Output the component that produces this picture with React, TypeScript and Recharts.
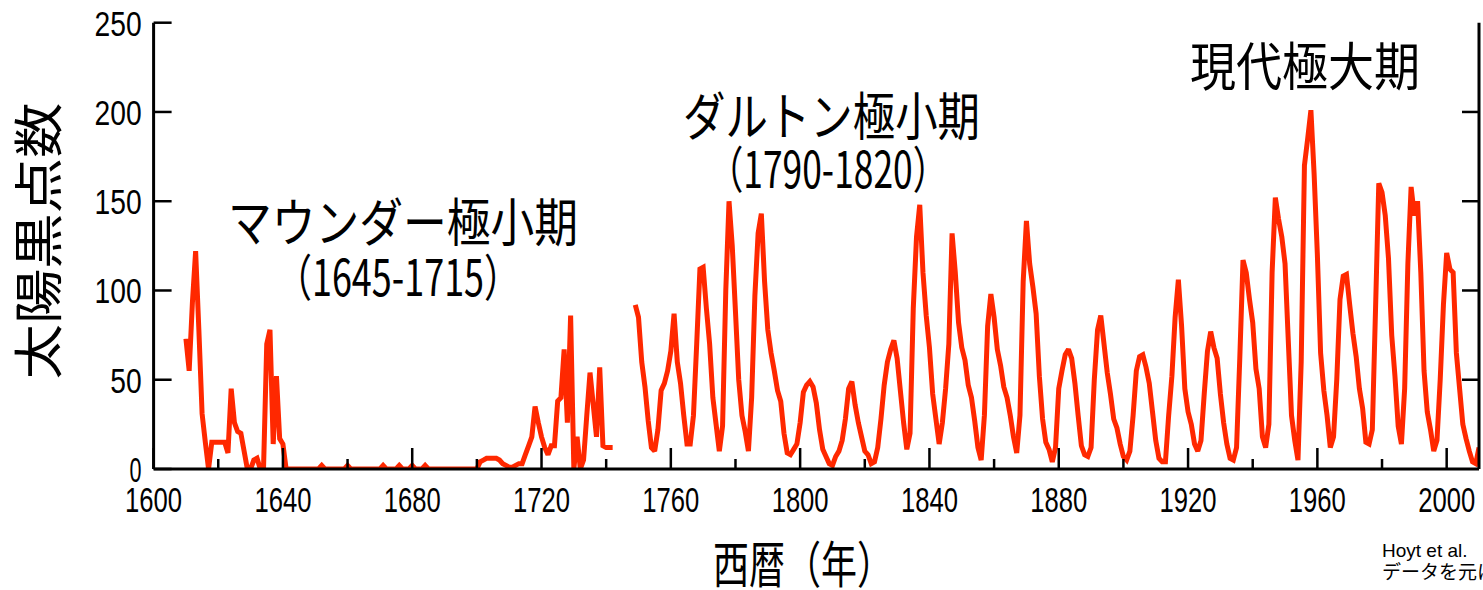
import React from 'react';
import { LineChart, Line, XAxis, YAxis } from 'recharts';

// Hoyt et al. group sunspot numbers (yearly)
const EARLY_START = 1610;
const earlySpots = [
  73, 55, 93, 122, 78, 31, 15, 0, 15, 15, // 1610-1619
  15, 15, 15, 9, 45, 26, 21, 20, 10, 0, // 1620-1629
  0, 5, 6, 0, 0, 70, 78, 14, 52, 17, // 1630-1639
  14, 0, 0, 0, 0, 0, 0, 0, 0, 0, // 1640-1649
  0, 0, 2, 0, 0, 0, 0, 0, 0, 0, // 1650-1659
  2, 0, 0, 0, 0, 0, 0, 0, 0, 0, // 1660-1669
  0, 2, 0, 0, 0, 0, 2, 0, 0, 0, // 1670-1679
  2, 0, 0, 0, 2, 0, 0, 0, 0, 0, // 1680-1689
  0, 0, 0, 0, 0, 0, 0, 0, 0, 0, // 1690-1699
  0, 4, 5, 6, 6, 6, 6, 5, 3, 2, // 1700-1709
  1, 1, 2, 3, 3, 8, 13, 18, 35, 26, // 1710-1719
  18, 12, 8, 13, 13, 38, 40, 67, 26, 86, // 1720-1729
  0, 18, 0, 5, 30, 54, 36, 18, 57, 13, // 1730-1739
  12, 12, 12, // 1740-1742
];

const LATE_START = 1749;
const lateSpots = [
  92, // 1749
  85, 60, 46, 27, 12, 10, 22, 44, 48, 55, // 1750-1759
  66, 87, 60, 48, 30, 14, 14, 30, 70, 112, // 1760-1769
  113, 90, 70, 40, 25, 10, 24, 100, 150, 125, // 1770-1779
  88, 50, 30, 21, 10, 40, 97, 132, 143, 105, // 1780-1789
  78, 65, 55, 44, 38, 20, 9, 8, 11, 14, // 1790-1799
  26, 43, 47, 49, 46, 37, 22, 11, 7, 3, // 1800-1809
  2, 7, 10, 16, 28, 45, 49, 36, 26, 18, // 1810-1819
  10, 8, 3, 4, 12, 28, 47, 60, 67, 72, // 1820-1829
  62, 44, 26, 11, 20, 90, 130, 148, 110, 86, // 1830-1839
  68, 42, 28, 14, 26, 45, 70, 132, 110, 82, // 1840-1849
  68, 61, 47, 40, 27, 12, 5, 30, 80, 98, // 1850-1859
  85, 67, 58, 46, 40, 30, 18, 9, 30, 105, // 1860-1869
  139, 115, 102, 87, 52, 28, 15, 11, 4, 12, // 1870-1879
  45, 55, 64, 67, 62, 48, 30, 13, 8, 7, // 1880-1889
  12, 50, 78, 86, 70, 54, 42, 28, 23, 14, // 1890-1899
  7, 5, 10, 30, 55, 63, 64, 57, 48, 32, // 1900-1909
  16, 6, 4, 4, 30, 52, 85, 106, 80, 45, // 1910-1919
  32, 25, 14, 10, 16, 42, 66, 77, 68, 62, // 1920-1929
  42, 26, 14, 6, 5, 12, 62, 117, 110, 95, // 1930-1939
  82, 56, 45, 18, 12, 25, 110, 152, 140, 130, // 1940-1949
  115, 72, 30, 16, 5, 60, 170, 185, 201, 165, // 1950-1959
  120, 65, 44, 30, 12, 18, 50, 95, 108, 109, // 1960-1969
  92, 76, 63, 45, 34, 15, 14, 22, 90, 160, // 1970-1979
  155, 142, 118, 75, 52, 24, 14, 45, 115, 158, // 1980-1989
  142, 150, 110, 55, 32, 22, 10, 16, 50, 92, // 1990-1999
  121, 112, 110, 65, 45, 25, 17, 10, 4, 3, // 2000-2009
  12, // 2010
];

const yearTicks = [1600, 1620, 1640, 1660, 1680, 1700, 1720, 1740, 1760, 1780, 1800, 1820, 1840, 1860, 1880, 1900, 1920, 1940, 1960, 1980, 2000];
const yearLabels = [1600, 1640, 1680, 1720, 1760, 1800, 1840, 1880, 1920, 1960, 2000];
const countTicks = [0, 50, 100, 150, 200, 250];
const rightTicks = [50, 100, 150, 200];

const lastYear = LATE_START + lateSpots.length - 1;
const chartData: { year: number; early: number | null; late: number | null }[] = [];
for (let yr = EARLY_START; yr <= lastYear; yr++) {
  const ei = yr - EARLY_START;
  const li = yr - LATE_START;
  chartData.push({
    year: yr,
    early: ei >= 0 && ei < earlySpots.length ? earlySpots[ei] : null,
    late: li >= 0 && li < lateSpots.length ? lateSpots[li] : null,
  });
}

const NUM_FONT = "'Liberation Sans Narrow', 'Liberation Sans', Arial, sans-serif";
const JP_FONT = "'Noto Sans CJK JP', 'Noto Sans', sans-serif";
const RED = '#ff2800';

const BottomTick = (props: any) => {
  const { x, y, payload } = props;
  const major = yearLabels.includes(payload.value);
  return (
    <g>
      <line x1={x} x2={x} y1={y} y2={y - (major ? 21 : 10)} stroke="#000" strokeWidth={2.5} />
      {major && (
        <text x={x} y={y + 43} textAnchor="middle" fontFamily={NUM_FONT} fontSize={35} fill="#000"
          textLength={57} lengthAdjust="spacingAndGlyphs">
          {payload.value}
        </text>
      )}
    </g>
  );
};

const TopTick = (props: any) => {
  const { x, y, payload } = props;
  const major = yearLabels.includes(payload.value);
  return <line x1={x} x2={x} y1={y} y2={y + (major ? 20 : 11)} stroke="#000" strokeWidth={2.5} />;
};

const LeftTick = (props: any) => {
  const { x, y, payload } = props;
  const s = String(payload.value);
  const w = s.length === 1 ? 12 : s.length * 15.7;
  return (
    <g>
      <line x1={x} x2={x + 18} y1={y} y2={y} stroke="#000" strokeWidth={2.5} />
      <text x={x - 12} y={y + 13} textAnchor="end" fontFamily={NUM_FONT} fontSize={35} fill="#000"
        textLength={w} lengthAdjust="spacingAndGlyphs">
        {s}
      </text>
    </g>
  );
};

const RightTick = (props: any) => {
  const { x, y } = props;
  return <line x1={x} x2={x - 17} y1={y} y2={y} stroke="#000" strokeWidth={2.5} />;
};

export default function App() {
  return (
    <div style={{ position: 'absolute', left: 0, top: 0, width: 1483, height: 590, overflow: 'hidden', background: '#fff' }}>
      <LineChart width={1483} height={590} data={chartData} margin={{ top: 22.7, right: 0, bottom: 0, left: 0 }}>
        <XAxis xAxisId="bottom" dataKey="year" type="number" domain={[1600, 2010]} ticks={yearTicks}
          interval={0} allowDataOverflow height={121} tickSize={0} tickMargin={0} tickLine={false}
          axisLine={{ stroke: '#000', strokeWidth: 3 }} tick={BottomTick} />
        <XAxis xAxisId="top" orientation="top" dataKey="year" type="number" domain={[1600, 2010]} ticks={yearTicks}
          interval={0} allowDataOverflow height={0} tickSize={0} tickMargin={0} tickLine={false}
          axisLine={{ stroke: '#000', strokeWidth: 3 }} tick={TopTick} />
        <YAxis yAxisId="left" type="number" domain={[0, 250]} ticks={countTicks} interval={0} allowDataOverflow
          width={153.6} tickSize={0} tickMargin={0} tickLine={false}
          axisLine={{ stroke: '#000', strokeWidth: 3 }} tick={LeftTick} />
        <YAxis yAxisId="right" orientation="right" type="number" domain={[0, 250]} ticks={rightTicks} interval={0}
          allowDataOverflow width={4} tickSize={0} tickMargin={0} tickLine={false}
          axisLine={{ stroke: '#000', strokeWidth: 3 }} tick={RightTick} />
        <Line xAxisId="bottom" yAxisId="left" type="linear" dataKey="early" stroke={RED} strokeWidth={5}
          strokeLinejoin="miter" strokeMiterlimit={2} dot={false} activeDot={false} isAnimationActive={false} />
        <Line xAxisId="bottom" yAxisId="left" type="linear" dataKey="late" stroke={RED} strokeWidth={5}
          strokeLinejoin="miter" strokeMiterlimit={2} dot={false} activeDot={false} isAnimationActive={false} />
      </LineChart>
      <svg width={1483} height={590} style={{ position: 'absolute', left: 0, top: 0, pointerEvents: 'none' }}>
        <g fontFamily={JP_FONT} fill="#000">
          <text x={228} y={242} fontSize={52} textLength={350} lengthAdjust="spacingAndGlyphs">マウンダー極小期</text>
          <text x={276} y={296} fontSize={50} textLength={244} lengthAdjust="spacingAndGlyphs">（1645-1715）</text>
          <text x={683} y={136} fontSize={52} textLength={297} lengthAdjust="spacingAndGlyphs">ダルトン極小期</text>
          <text x={708} y={188} fontSize={50} textLength={240} lengthAdjust="spacingAndGlyphs">（1790-1820）</text>
          <text x={1190} y={86} fontSize={52} textLength={230} lengthAdjust="spacingAndGlyphs">現代極大期</text>
          <text x={713} y={583} fontSize={50} textLength={180} lengthAdjust="spacingAndGlyphs">西暦（年）</text>
          <text x={39} y={259} fontSize={50} textAnchor="middle" textLength={277} lengthAdjust="spacingAndGlyphs"
            transform="rotate(-90 39 241)">
            太陽黒点数
          </text>
          <text x={1382} y={557} fontSize={19} fontFamily="'Liberation Sans', Arial, sans-serif">Hoyt et al.</text>
          <text x={1382} y={579} fontSize={19}>データを元に作成</text>
        </g>
      </svg>
    </div>
  );
}
